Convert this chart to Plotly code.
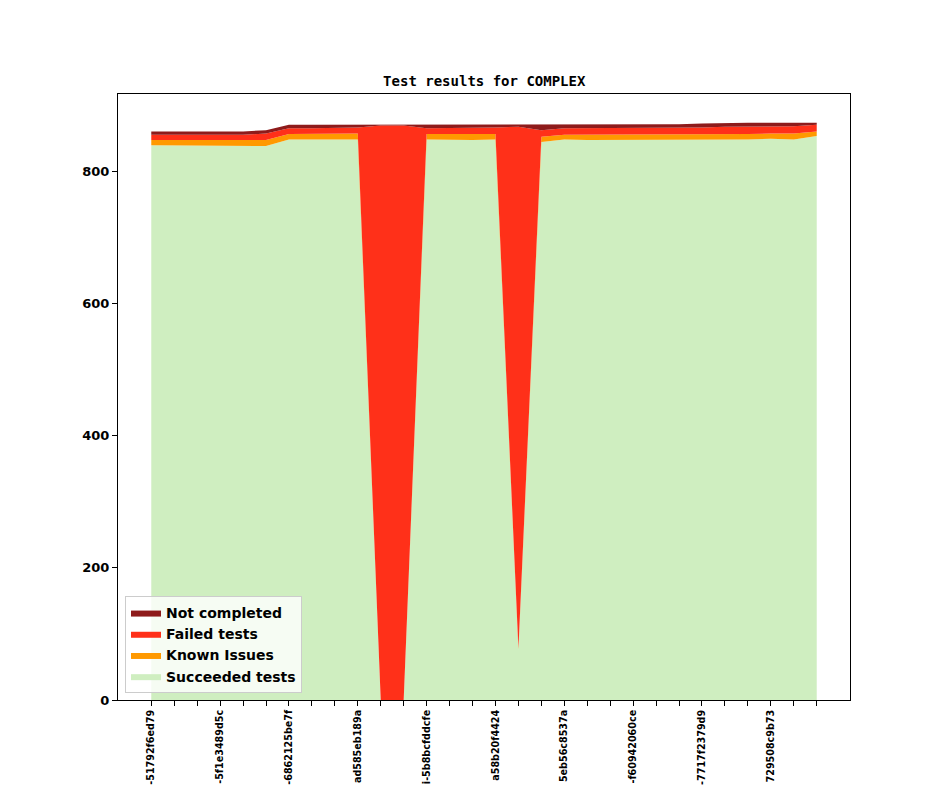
import plotly.graph_objects as go

# build labels (only the tail of each is visible in the original chart)
tick_labels = ['-51792f6ed79', '-5f1e3489d5c', '-6862125be7f', 'ad585eb189a',
               'i-5b8bcfddcfe', 'a58b20f4424', '5eb56c8537a', '-f60942060ce',
               '-7717f2379d9', '729508c9b73']
label_step = 3

succeeded = [839, 839, 839, 839, 838, 838, 848, 848, 848, 848,
             0, 0, 848, 847, 847, 848, 76, 844, 848, 847,
             847, 847, 848, 848, 848, 847, 848, 849, 848, 853]
known = [8, 8, 7, 8, 8, 9, 8, 8, 8, 9,
         0, 0, 8, 9, 9, 8, 2, 8, 7, 8,
         8, 8, 8, 8, 8, 8, 8, 8, 9, 7]
failed = [8, 8, 9, 8, 9, 10, 9, 9, 9, 9,
          869, 869, 9, 9, 9, 10, 789, 10, 10, 10,
          10, 10, 9, 10, 10, 12, 11, 11, 11, 10]
not_completed = [5, 5, 5, 5, 5, 5, 5, 5, 5, 5,
                 2, 2, 6, 6, 6, 5, 4, 9, 6, 6,
                 6, 6, 6, 5, 6, 6, 6, 5, 5, 3]

n = len(succeeded)
xs = list(range(n))
ticktext = ['' for _ in xs]
for k, lab in enumerate(tick_labels):
    ticktext[k * label_step] = lab

series = [('Succeeded tests', succeeded, '#cfeec0'),
          ('Known Issues', known, '#ff9900'),
          ('Failed tests', failed, '#ff3019'),
          ('Not completed', not_completed, '#8e1b1b')]

fig = go.Figure()
for name, vals, col in series:
    fig.add_trace(go.Scatter(x=xs, y=vals, name=name, mode='lines',
                             stackgroup='one', line=dict(width=0, color=col),
                             fillcolor=col))

totals = [a + b + c + d for a, b, c, d in zip(succeeded, known, failed, not_completed)]
pad = (n - 1) * 0.05

fig.update_layout(
    width=944, height=787,
    margin=dict(l=110, r=102, t=86, b=95, autoexpand=False),
    plot_bgcolor='white', paper_bgcolor='white',
    title=dict(text='Test results for COMPLEX', x=0.5045, xanchor='center',
               y=1 - 73 / 787, yanchor='middle',
               font=dict(family='DejaVu Sans Mono', size=14, color='black', weight='bold')),
    showlegend=True,
    legend=dict(x=0.0096, y=0.0116, xanchor='left', yanchor='bottom',
                traceorder='reversed', bgcolor='rgba(255,255,255,0.8)',
                bordercolor='#cccccc', borderwidth=1,
                font=dict(family='DejaVu Sans', size=14, color='black', weight='bold')),
    xaxis=dict(range=[-pad, n - 1 + pad], tickmode='array', tickvals=xs,
               ticktext=ticktext, tickangle=-90, automargin=False,
               ticks='outside', ticklen=5, tickcolor='black',
               showline=True, linecolor='black', linewidth=1, mirror=True,
               showgrid=False, zeroline=False,
               tickfont=dict(family='DejaVu Sans', size=9.6, color='black', weight='bold')),
    yaxis=dict(range=[0, max(totals) * 1.05], tickvals=[0, 200, 400, 600, 800],
               ticks='outside', ticklen=5, tickcolor='black', automargin=False,
               showline=True, linecolor='black', linewidth=1, mirror=True,
               showgrid=False, zeroline=False,
               tickfont=dict(family='DejaVu Sans', size=13, color='black', weight='bold')),
)

fig.write_html('out.html')
